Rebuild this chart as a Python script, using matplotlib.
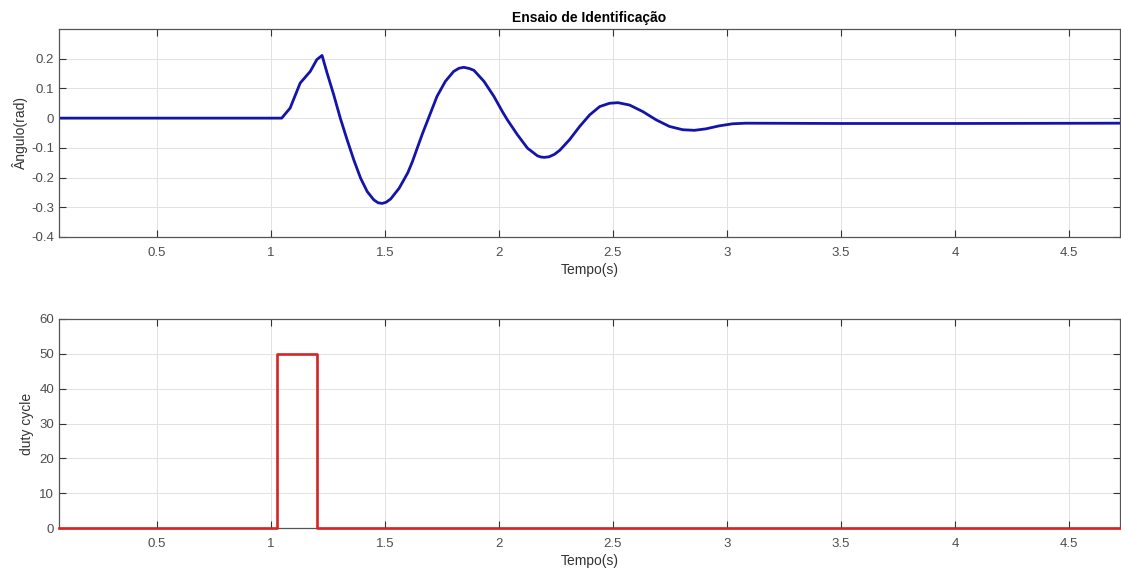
import matplotlib.pyplot as plt

plt.rcParams['font.family'] = ['Liberation Sans', 'DejaVu Sans']

# ensaio: angulo medido (rad) ao longo do tempo
tempo_ang = [0.07, 0.5, 1.0, 1.047, 1.084, 1.128, 1.172, 1.201, 1.224, 1.246,
             1.275, 1.304, 1.334, 1.363, 1.393, 1.422, 1.451, 1.470, 1.488,
             1.505, 1.525, 1.562, 1.600, 1.620, 1.640, 1.665, 1.691, 1.728,
             1.765, 1.801, 1.825, 1.846, 1.870, 1.890, 1.934, 1.978, 2.015,
             2.037, 2.081, 2.125, 2.169, 2.185, 2.199, 2.220, 2.243, 2.267,
             2.310, 2.354, 2.398, 2.442, 2.485, 2.522, 2.573, 2.631, 2.690,
             2.748, 2.806, 2.857, 2.908, 2.966, 3.025, 3.083, 3.5, 4.0, 4.724]
angulo = [0.0, 0.0, 0.0, 0.0, 0.034, 0.118, 0.157, 0.197, 0.211, 0.152,
          0.079, 0.0, -0.073, -0.140, -0.202, -0.247, -0.275, -0.285, -0.287,
          -0.283, -0.272, -0.236, -0.184, -0.147, -0.104, -0.051, 0.0, 0.073,
          0.124, 0.157, 0.168, 0.171, 0.167, 0.161, 0.124, 0.073, 0.022,
          -0.006, -0.056, -0.101, -0.127, -0.131, -0.132, -0.130, -0.122,
          -0.108, -0.072, -0.028, 0.011, 0.039, 0.050, 0.052, 0.044, 0.022,
          -0.006, -0.028, -0.039, -0.041, -0.036, -0.026, -0.019, -0.017,
          -0.018, -0.018, -0.017]

# pulso de duty cycle aplicado
tempo_duty = [0.07, 1.025, 1.025, 1.2, 1.2, 4.724]
duty = [0, 0, 50, 50, 0, 0]

xticks = [0.5, 1, 1.5, 2, 2.5, 3, 3.5, 4, 4.5]
xticklabels = ['0.5', '1', '1.5', '2', '2.5', '3', '3.5', '4', '4.5']
yticks_ang = [-0.4, -0.3, -0.2, -0.1, 0, 0.1, 0.2]
yticklabels_ang = ['-0.4', '-0.3', '-0.2', '-0.1', '0', '0.1', '0.2']
yticks_duty = [0, 10, 20, 30, 40, 50, 60]

fig = plt.figure(figsize=(11.21, 5.73), dpi=100)
ax1 = fig.add_axes([0.0526, 0.5864, 0.9465, 0.363])
ax2 = fig.add_axes([0.0526, 0.0785, 0.9465, 0.3648])


def estilo(ax):
    ax.set_xlim(0.07, 4.724)
    ax.set_xticks(xticks)
    ax.set_xticklabels(xticklabels)
    ax.grid(True, color='#e2e2e2', linewidth=0.7)
    ax.set_axisbelow(True)
    ax.tick_params(direction='in', top=True, right=True, length=5,
                   width=0.8, color='#333333', labelcolor='#4d4d4d',
                   labelsize=9.5)
    ax.tick_params(axis='x', pad=7)
    for s in ax.spines.values():
        s.set_color('#555555')
        s.set_linewidth(0.9)
    ax.set_xlabel('Tempo(s)', fontsize=10, color='#333333', labelpad=3)


ax1.plot(tempo_ang, angulo, color='#1414aa', linewidth=2.0,
         solid_joinstyle='round')
estilo(ax1)
ax1.set_ylim(-0.4, 0.3)
ax1.set_yticks(yticks_ang)
ax1.set_yticklabels(yticklabels_ang)
ax1.set_ylabel('Ângulo(rad)', fontsize=10, color='#333333', labelpad=2)
ax1.set_title('Ensaio de Identificação', fontsize=10, fontweight='bold',
              pad=5)

ax2.plot(tempo_duty, duty, color='#d42424', linewidth=1.9, clip_on=False,
         zorder=5)
estilo(ax2)
ax2.set_ylim(0, 60)
ax2.set_yticks(yticks_duty)
ax2.set_ylabel('duty cycle', fontsize=10, color='#333333', labelpad=4)

fig.savefig('out.png', dpi=100)
